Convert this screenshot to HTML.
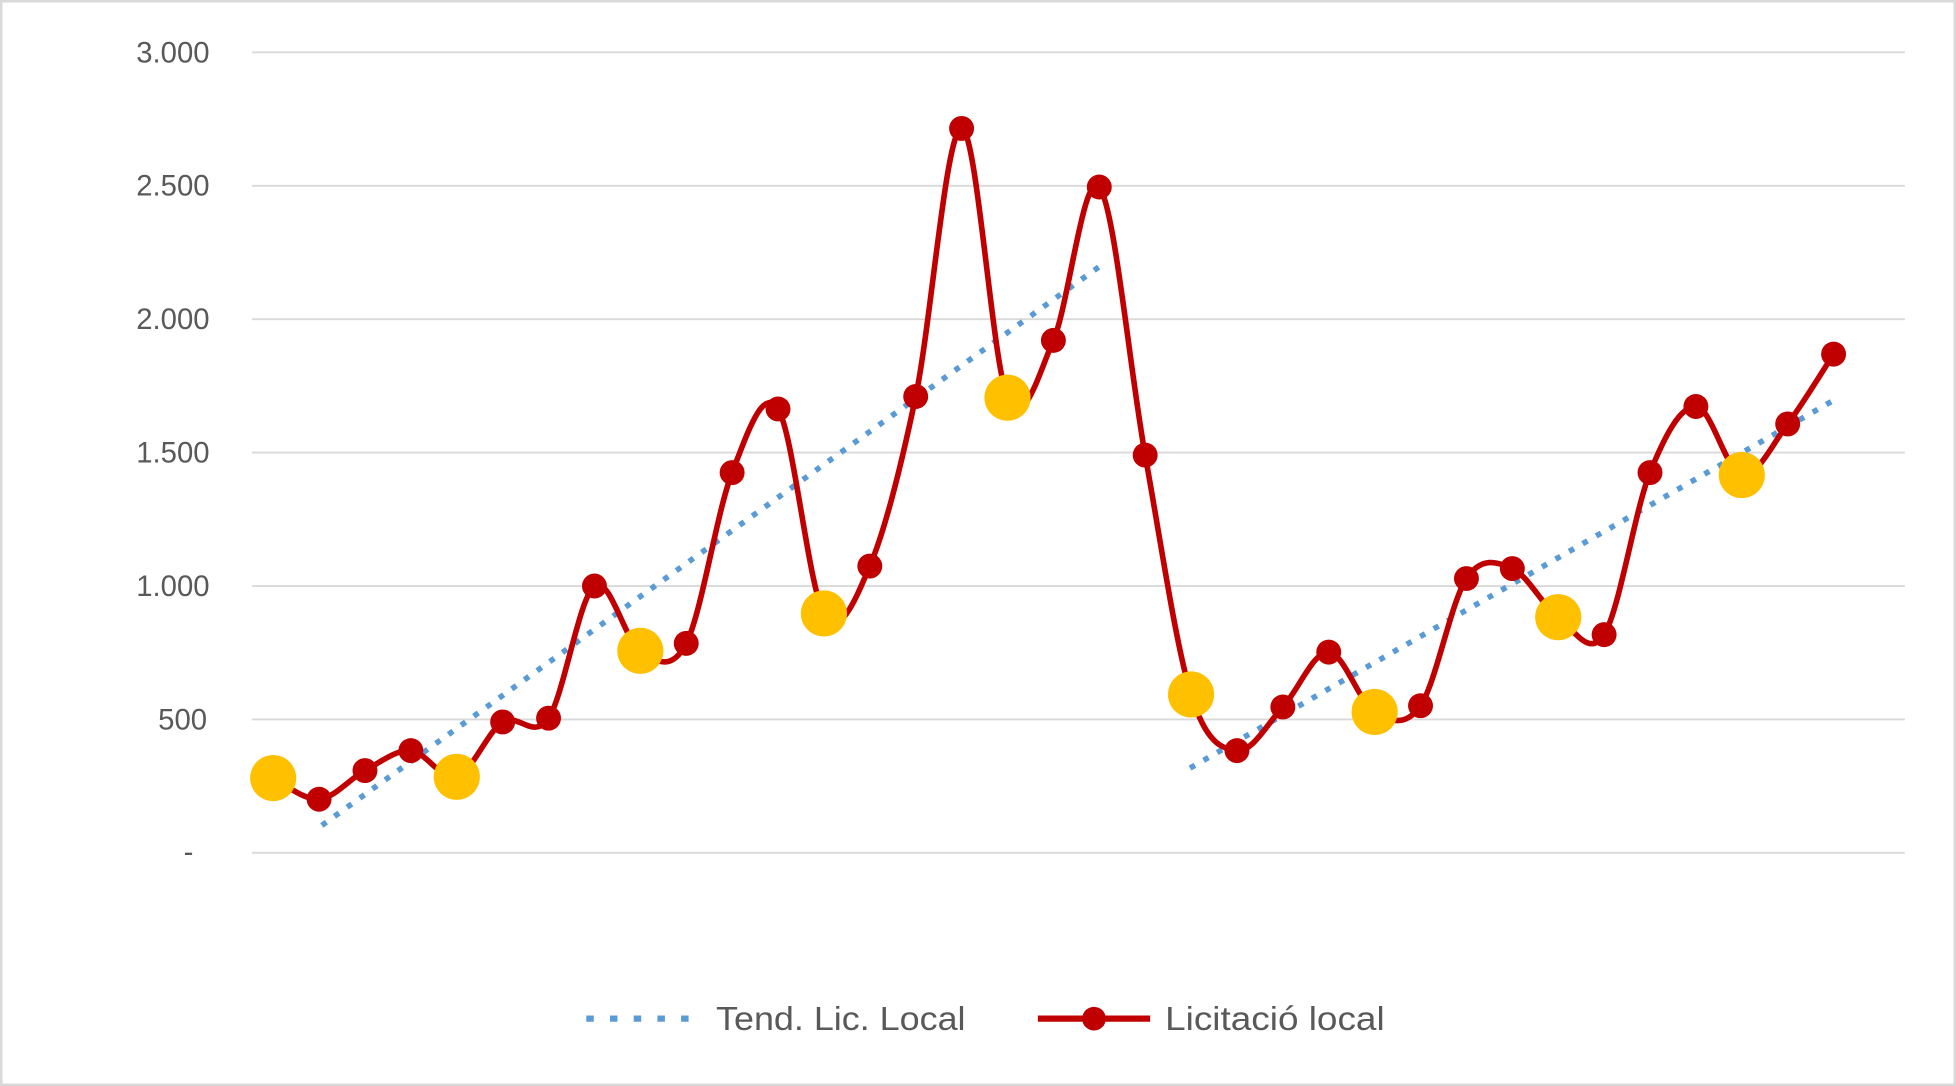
<!DOCTYPE html>
<html><head><meta charset="utf-8"><style>
html,body{margin:0;padding:0;background:#fff;}
svg{display:block;}
text{font-family:"Liberation Sans",sans-serif;fill:#595959;}
</style></head><body>
<svg id="s" width="1956" height="1086" viewBox="0 0 1568 871" preserveAspectRatio="none" xmlns="http://www.w3.org/2000/svg">
<rect x="1" y="1" width="1566" height="869" fill="#fff" stroke="#d9d9d9" stroke-width="2"/>
<g stroke="#d9d9d9" stroke-width="1.5">
<line x1="202" x2="1527" y1="42" y2="42"/>
<line x1="202" x2="1527" y1="149" y2="149"/>
<line x1="202" x2="1527" y1="256" y2="256"/>
<line x1="202" x2="1527" y1="363" y2="363"/>
<line x1="202" x2="1527" y1="470" y2="470"/>
<line x1="202" x2="1527" y1="577" y2="577"/>
<line x1="202" x2="1527" y1="684" y2="684"/>
</g>
<g font-size="23.5" text-anchor="end">
<text x="168" y="50">3.000</text>
<text x="168" y="157">2.500</text>
<text x="168" y="264">2.000</text>
<text x="168" y="371">1.500</text>
<text x="168" y="478">1.000</text>
<text x="166" y="585">500</text>
<text x="155" y="691">-</text>
</g>
<g stroke="#5B9BD5" stroke-width="4.5" stroke-dasharray="4.5 8">
<line x1="258" y1="662" x2="881" y2="214"/>
<line x1="954" y1="616" x2="1470" y2="321"/>
</g>
<path id="curve" fill="none" stroke="#C00000" stroke-width="4.5"/>
<g id="marks"></g>
<line x1="470" y1="817" x2="562" y2="817" stroke="#5B9BD5" stroke-width="5" stroke-dasharray="6 13"/>
<text x="574" y="826" font-size="27" textLength="200" lengthAdjust="spacingAndGlyphs">Tend. Lic. Local</text>
<line x1="832" y1="817" x2="922" y2="817" stroke="#C00000" stroke-width="5"/>
<circle cx="877" cy="817" r="9.5" fill="#C00000"/>
<text x="934" y="826" font-size="27" textLength="176" lengthAdjust="spacingAndGlyphs">Licitació local</text>
</svg>
<script>
var ys=[624,641,618,602,623,579,576,470,522,516,379,328,492,454,318,103,319,273,150,365,557,602,567,523,571,566,464,456,495,509,379,326,381,340,284];
var yel=[0,4,8,12,16,20,24,28,32];
var P=ys.map(function(y,i){return [219+i*36.79,y];});
var d="M"+P[0][0]+","+P[0][1];
for(var i=0;i<P.length-1;i++){
var p0=P[Math.max(0,i-1)],p1=P[i],p2=P[i+1],p3=P[Math.min(P.length-1,i+2)];
var c1=[p1[0]+(p2[0]-p0[0])/6,p1[1]+(p2[1]-p0[1])/6];
var c2=[p2[0]-(p3[0]-p1[0])/6,p2[1]-(p3[1]-p1[1])/6];
d+=" C"+c1.join(",")+" "+c2.join(",")+" "+p2.join(",");
}
document.getElementById("curve").setAttribute("d",d);
var g=document.getElementById("marks"),h="";
P.forEach(function(p,i){
if(yel.indexOf(i)>=0)h+='<circle cx="'+p[0]+'" cy="'+p[1]+'" r="18.5" fill="#FFC000"/>';
else h+='<circle cx="'+p[0]+'" cy="'+p[1]+'" r="10" fill="#C00000"/>';
});
g.innerHTML=h;
</script>
</body></html>
